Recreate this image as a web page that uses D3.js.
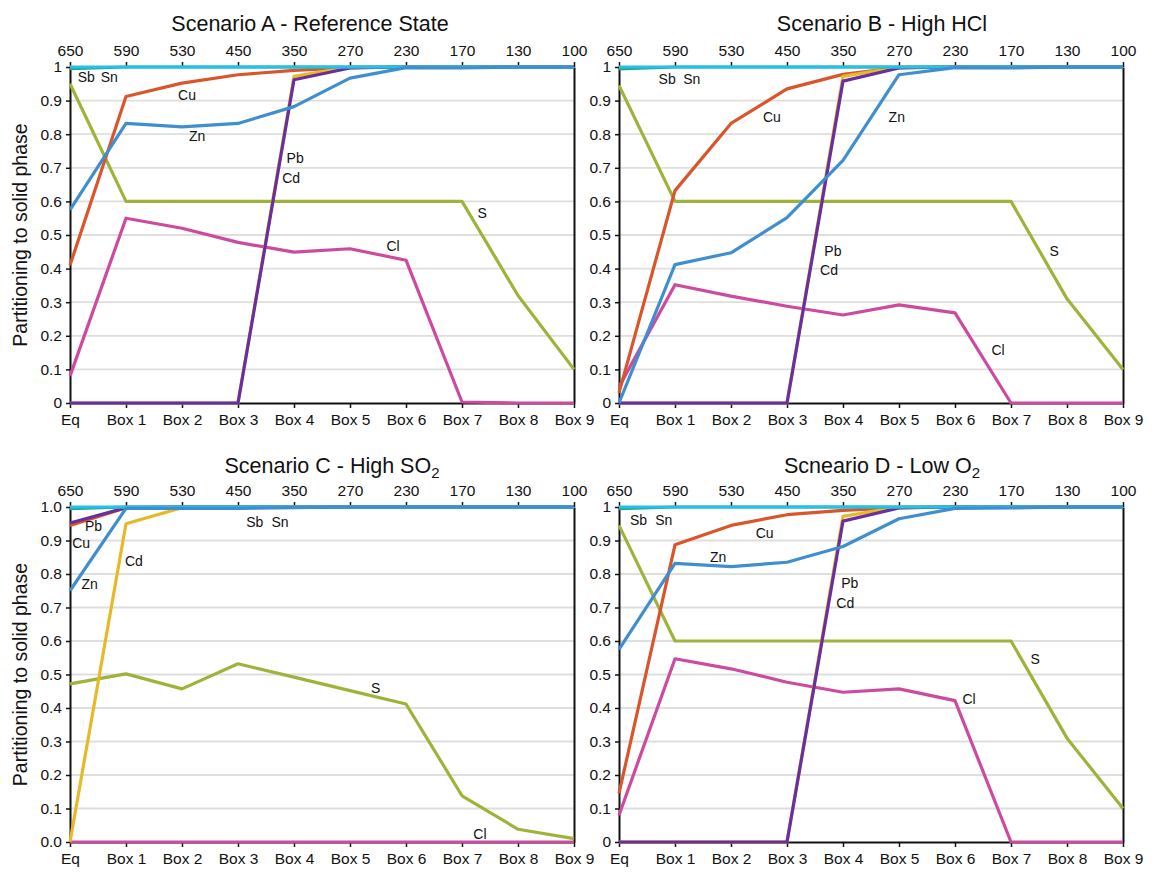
<!DOCTYPE html>
<html>
<head>
<meta charset="utf-8">
<script src="https://cdn.jsdelivr.net/npm/d3@7"></script>
<style>
  html, body { margin: 0; padding: 0; background: #fff; }
  svg { display: block; font-family: "Liberation Sans", Arial, Helvetica, sans-serif; }
</style>
</head>
<body>
<svg id="chart" width="1153" height="873"></svg>
<script>
// Sampling stages along the flue-gas path, with the gas temperature (°C) at each stage
const categories = ["Eq", "Box 1", "Box 2", "Box 3", "Box 4", "Box 5", "Box 6", "Box 7", "Box 8", "Box 9"];
const temperatures = ["650", "590", "530", "450", "350", "270", "230", "170", "130", "100"];
const yTickValues = [0, 0.1, 0.2, 0.3, 0.4, 0.5, 0.6, 0.7, 0.8, 0.9, 1];

// Scenario A - reference state: fraction of each element in the solid phase
const sA_S  = [0.95, 0.6, 0.6, 0.6, 0.6, 0.6, 0.6, 0.6, 0.32, 0.1];
const sA_Cl = [0.08, 0.55, 0.52, 0.478, 0.449, 0.459, 0.425, 0.003, 0, 0];
const sA_Cu = [0.41, 0.912, 0.952, 0.977, 0.99, 0.998, 1, 1, 1, 1];
const sA_Cd = [0, 0, 0, 0, 0.972, 1, 1, 1, 1, 1];
const sA_Pb = [0, 0, 0, 0, 0.962, 0.997, 1, 1, 1, 1];
const sA_Sb = [0.995, 1, 1, 1, 1, 1, 1, 1, 1, 1];
const sA_Sn = [1, 1, 1, 1, 1, 1, 1, 1, 1, 1];
const sA_Zn = [0.575, 0.832, 0.822, 0.832, 0.882, 0.967, 0.998, 0.997, 1, 1];

// Scenario B - high HCl
const sB_S  = [0.945, 0.6, 0.6, 0.6, 0.6, 0.6, 0.6, 0.6, 0.31, 0.1];
const sB_Cl = [0.048, 0.352, 0.318, 0.288, 0.262, 0.292, 0.268, 0, 0, 0];
const sB_Cu = [0.03, 0.632, 0.832, 0.935, 0.978, 0.998, 1, 1, 1, 1];
const sB_Cd = [0, 0, 0, 0, 0.972, 1, 1, 1, 1, 1];
const sB_Pb = [0, 0, 0, 0, 0.958, 0.997, 1, 1, 1, 1];
const sB_Sb = [0.994, 1, 1, 1, 1, 1, 1, 1, 1, 1];
const sB_Sn = [1, 1, 1, 1, 1, 1, 1, 1, 1, 1];
const sB_Zn = [0, 0.412, 0.447, 0.552, 0.722, 0.977, 0.998, 0.997, 1, 1];

// Scenario C - high SO2
const sC_S  = [0.472, 0.502, 0.457, 0.532, 0.492, 0.452, 0.412, 0.138, 0.038, 0.01];
const sC_Cl = [0, 0, 0, 0, 0, 0, 0, 0, 0, 0];
const sC_Cu = [0.945, 0.998, 1, 1, 1, 1, 1, 1, 1, 1];
const sC_Cd = [0, 0.95, 0.998, 1, 1, 1, 1, 1, 1, 1];
const sC_Pb = [0.952, 0.998, 1, 1, 1, 1, 1, 1, 1, 1];
const sC_Sb = [0.995, 1, 1, 1, 1, 1, 1, 1, 1, 1];
const sC_Sn = [1, 1, 1, 1, 1, 1, 1, 1, 1, 1];
const sC_Zn = [0.75, 0.996, 0.996, 0.996, 0.998, 1, 1, 1, 1, 1];

// Scenario D - low O2
const sD_S  = [0.945, 0.6, 0.6, 0.6, 0.6, 0.6, 0.6, 0.6, 0.31, 0.1];
const sD_Cl = [0.08, 0.547, 0.517, 0.477, 0.447, 0.457, 0.422, 0, 0, 0];
const sD_Cu = [0.145, 0.887, 0.945, 0.977, 0.99, 0.998, 1, 1, 1, 1];
const sD_Cd = [0, 0, 0, 0, 0.972, 1, 1, 1, 1, 1];
const sD_Pb = [0, 0, 0, 0, 0.958, 0.997, 1, 1, 1, 1];
const sD_Sb = [0.995, 1, 1, 1, 1, 1, 1, 1, 1, 1];
const sD_Sn = [1, 1, 1, 1, 1, 1, 1, 1, 1, 1];
const sD_Zn = [0.575, 0.832, 0.822, 0.835, 0.882, 0.965, 0.996, 0.997, 1, 1];

// Element colours (drawing order: first listed is drawn at the back)
const elements = ["S", "Cl", "Cu", "Cd", "Pb", "Sb", "Sn", "Zn"];
const colors = {
  S: "#9db43b", Cl: "#cc4aa0", Cu: "#d9552c", Cd: "#e7b928",
  Pb: "#6a2e9e", Sb: "#1ea98e", Sn: "#27c0e8", Zn: "#3f8fd0"
};

// In-plot element labels, positioned in data units (category index, fraction)
const labelsA = [
  ["Sb", 0.29, 0.970], ["Sn", 0.70, 0.970], ["Cu", 2.09, 0.917], ["Zn", 2.27, 0.795],
  ["Pb", 4.02, 0.729], ["Cd", 3.95, 0.670], ["Cl", 5.77, 0.467], ["S", 7.36, 0.565]
];
const labelsB = [
  ["Sb", 0.86, 0.964], ["Sn", 1.30, 0.964], ["Cu", 2.73, 0.851], ["Zn", 4.96, 0.851],
  ["Pb", 3.82, 0.452], ["Cd", 3.75, 0.396], ["S", 7.77, 0.452], ["Cl", 6.77, 0.158]
];
const labelsC = [
  ["Pb", 0.42, 0.942], ["Cu", 0.20, 0.893], ["Zn", 0.35, 0.770], ["Cd", 1.14, 0.839],
  ["Sb", 3.30, 0.956], ["Sn", 3.75, 0.956], ["S", 5.46, 0.460], ["Cl", 7.32, 0.024]
];
const labelsD = [
  ["Sb", 0.35, 0.960], ["Sn", 0.80, 0.960], ["Cu", 2.60, 0.923], ["Zn", 1.77, 0.851],
  ["Pb", 4.12, 0.773], ["Cd", 4.04, 0.714], ["S", 7.43, 0.546], ["Cl", 6.25, 0.427]
];

// Whole-number ticks without a decimal for A, B and D; fixed one decimal for C
const plainFmt = d => (d === 0 || d === 1) ? String(d) : d3.format(".1f")(d);
const fixedFmt = d3.format(".1f");

const panels = [
  { title: ["Scenario A - Reference State"], titleX: 310, titleY: 31,
    series: { S: sA_S, Cl: sA_Cl, Cu: sA_Cu, Cd: sA_Cd, Pb: sA_Pb, Sb: sA_Sb, Sn: sA_Sn, Zn: sA_Zn },
    labels: labelsA, x0: 70, x1: 574, y0: 67, y1: 403, fmt: plainFmt, yLabel: true },
  { title: ["Scenario B - High HCl"], titleX: 882, titleY: 31,
    series: { S: sB_S, Cl: sB_Cl, Cu: sB_Cu, Cd: sB_Cd, Pb: sB_Pb, Sb: sB_Sb, Sn: sB_Sn, Zn: sB_Zn },
    labels: labelsB, x0: 619, x1: 1123, y0: 67, y1: 403, fmt: plainFmt, yLabel: false },
  { title: ["Scenario C - High SO", "2"], titleX: 332, titleY: 473,
    series: { S: sC_S, Cl: sC_Cl, Cu: sC_Cu, Cd: sC_Cd, Pb: sC_Pb, Sb: sC_Sb, Sn: sC_Sn, Zn: sC_Zn },
    labels: labelsC, x0: 70, x1: 574, y0: 507, y1: 842, fmt: fixedFmt, yLabel: true },
  { title: ["Scneario D - Low O", "2"], titleX: 882, titleY: 473,
    series: { S: sD_S, Cl: sD_Cl, Cu: sD_Cu, Cd: sD_Cd, Pb: sD_Pb, Sb: sD_Sb, Sn: sD_Sn, Zn: sD_Zn },
    labels: labelsD, x0: 619, x1: 1123, y0: 507, y1: 842, fmt: plainFmt, yLabel: false }
];

const svg = d3.select("#chart");
const FONT = '"Liberation Sans", Arial, Helvetica, sans-serif';

panels.forEach(p => {
  const g = svg.append("g");
  const x = d3.scalePoint().domain(categories).range([p.x0, p.x1]).padding(0);
  const xi = d3.scaleLinear().domain([0, categories.length - 1]).range([p.x0, p.x1]);
  const y = d3.scaleLinear().domain([0, 1]).range([p.y1, p.y0]);

  // Horizontal gridlines
  g.append("g").selectAll("line").data(yTickValues.filter(v => v > 0 && v < 1)).join("line")
    .attr("x1", p.x0).attr("x2", p.x1)
    .attr("y1", d => y(d)).attr("y2", d => y(d))
    .attr("stroke", "#dedede").attr("stroke-width", 1.8);

  // Left axis with value ticks
  const yAxis = g.append("g").attr("transform", `translate(${p.x0},0)`)
    .call(d3.axisLeft(y).tickValues(yTickValues).tickFormat(p.fmt).tickSize(4).tickPadding(4).tickSizeOuter(0));
  // Right frame line
  g.append("g").attr("transform", `translate(${p.x1},0)`)
    .call(d3.axisRight(y).tickValues([]).tickSizeOuter(0));
  // Bottom axis: sampling stages
  const xAxis = g.append("g").attr("transform", `translate(0,${p.y1})`)
    .call(d3.axisBottom(x).tickSize(5).tickSizeOuter(0).tickPadding(6));
  // Top axis: temperatures
  const tAxis = g.append("g").attr("transform", `translate(0,${p.y0})`)
    .call(d3.axisTop(x).tickFormat((d, i) => temperatures[i]).tickSize(5).tickSizeOuter(0).tickPadding(6));

  [yAxis, xAxis, tAxis].forEach(a => {
    a.selectAll("text").attr("font-size", 15.5).attr("fill", "#111").attr("font-family", FONT);
    a.selectAll("line").attr("stroke", "#111").attr("stroke-width", 1.5);
  });
  g.selectAll(".domain").attr("stroke", "#111").attr("stroke-width", 2);
  tAxis.select(".domain").attr("stroke", "none");

  // Element lines
  const line = d3.line().x((d, i) => x(categories[i])).y(d => y(d));
  elements.forEach(el => {
    g.append("path").datum(p.series[el])
      .attr("d", line)
      .attr("fill", "none")
      .attr("stroke", colors[el])
      .attr("stroke-width", 3.2)
      .attr("stroke-linejoin", "round");
  });

  // Element labels
  g.append("g").selectAll("text").data(p.labels).join("text")
    .attr("x", d => xi(d[1])).attr("y", d => y(d[2]))
    .attr("text-anchor", "middle").attr("dominant-baseline", "central")
    .attr("font-size", 14).attr("fill", "#111")
    .text(d => d[0]);

  // Title (with optional subscript)
  const t = svg.append("text").attr("x", p.titleX).attr("y", p.titleY)
    .attr("text-anchor", "middle").attr("font-size", 21.5).attr("fill", "#111");
  t.append("tspan").text(p.title[0]);
  if (p.title[1]) {
    t.append("tspan").attr("font-size", 15).attr("dy", 5).text(p.title[1]);
  }

  if (p.yLabel) {
    svg.append("text")
      .attr("transform", `translate(27,${(p.y0 + p.y1) / 2}) rotate(-90)`)
      .attr("text-anchor", "middle").attr("font-size", 19.5).attr("fill", "#111")
      .text("Partitioning to solid phase");
  }
});
</script>
</body>
</html>
